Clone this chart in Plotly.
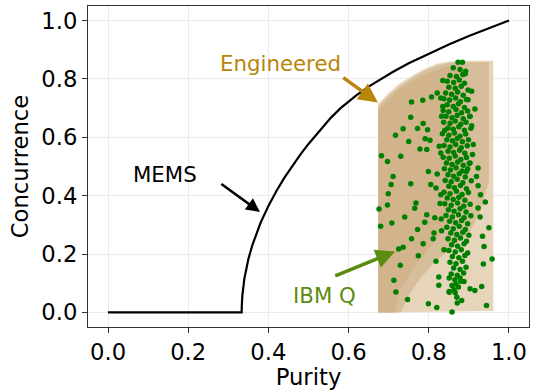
import plotly.graph_objects as go

# MEMS boundary (purity, concurrence)
mems_purity = [0.0, 0.3333, 0.3336, 0.3345, 0.335, 0.34, 0.35, 0.36, 0.38, 0.40, 0.42, 0.44,
               0.46, 0.48, 0.50, 0.52, 0.54, 0.5556, 0.58, 0.60, 0.62, 0.65, 0.68, 0.71,
               0.75, 0.80, 0.85, 0.90, 0.95, 1.0]
mems_concurrence = [0.0, 0.0, 0.023, 0.048, 0.058, 0.1155, 0.1826, 0.2309, 0.3055, 0.3651, 0.4163, 0.4619,
                    0.5033, 0.5416, 0.5774, 0.6110, 0.6429, 0.6667, 0.7000, 0.7236, 0.7449, 0.7739, 0.8000, 0.8240,
                    0.8536, 0.8873, 0.9183, 0.9472, 0.9743, 1.0]

# Engineered-state cloud outline (outer sparse, middle, dense core)
eng_outer_purity = [0.674, 0.674, 0.70, 0.728, 0.76, 0.79, 0.82, 0.85, 0.90, 0.961, 0.961, 0.674]
eng_outer_conc = [0.0, 0.715, 0.752, 0.785, 0.812, 0.835, 0.852, 0.860, 0.862, 0.862, 0.005, 0.0]
eng_mid_purity = [0.674, 0.674, 0.70, 0.728, 0.76, 0.79, 0.82, 0.85, 0.95, 0.95, 0.93, 0.90, 0.86, 0.82, 0.78, 0.75, 0.73, 0.674]
eng_mid_conc = [0.0, 0.705, 0.742, 0.775, 0.805, 0.828, 0.845, 0.855, 0.858, 0.45, 0.35, 0.27, 0.22, 0.18, 0.12, 0.06, 0.0, 0.0]
eng_core_purity = [0.674, 0.674, 0.70, 0.728, 0.76, 0.80, 0.84, 0.88, 0.88, 0.85, 0.80, 0.76, 0.73, 0.715, 0.674]
eng_core_conc = [0.0, 0.69, 0.73, 0.765, 0.795, 0.82, 0.84, 0.845, 0.50, 0.30, 0.22, 0.15, 0.08, 0.0, 0.0]

# IBM Q measured states (purity, concurrence)
ibm_scattered = [
    (0.884, 0.857), (0.891, 0.818), (0.757, 0.721), (0.785, 0.727), (0.807, 0.738), (0.821, 0.752),
    (0.755, 0.669), (0.736, 0.629), (0.717, 0.607), (0.750, 0.586), (0.772, 0.630), (0.786, 0.647),
    (0.797, 0.626), (0.791, 0.595), (0.803, 0.590), (0.778, 0.560), (0.795, 0.558), (0.682, 0.537),
    (0.697, 0.517), (0.730, 0.535), (0.711, 0.466), (0.799, 0.483), (0.821, 0.474), (0.830, 0.546),
    (0.826, 0.569), (0.840, 0.624), (0.832, 0.672), (0.835, 0.706), (0.830, 0.735), (0.835, 0.795),
    (0.915, 0.697), (0.907, 0.758), (0.898, 0.729), (0.903, 0.672), (0.907, 0.640), (0.911, 0.575),
    (0.909, 0.541), (0.923, 0.495), (0.919, 0.466), (0.903, 0.512), (0.894, 0.483),
    (0.706, 0.438), (0.755, 0.441), (0.699, 0.407), (0.697, 0.368), (0.676, 0.354), (0.768, 0.375),
    (0.765, 0.357), (0.740, 0.327), (0.708, 0.306), (0.680, 0.295), (0.795, 0.335), (0.790, 0.309),
    (0.772, 0.284), (0.757, 0.252), (0.786, 0.235), (0.736, 0.223), (0.725, 0.217), (0.774, 0.194),
    (0.729, 0.162), (0.713, 0.110), (0.718, 0.070), (0.747, 0.044), (0.799, 0.030), (0.820, 0.017),
    (0.858, 0.001), (0.871, 0.032), (0.882, 0.041), (0.944, 0.024), (0.932, 0.089), (0.903, 0.081),
    (0.915, 0.075), (0.825, 0.093), (0.851, 0.069), (0.868, 0.097), (0.863, 0.078), (0.818, 0.175),
    (0.838, 0.215), (0.958, 0.183), (0.936, 0.166), (0.950, 0.290), (0.941, 0.378), (0.934, 0.261),
    (0.938, 0.226), (0.928, 0.327), (0.923, 0.358), (0.929, 0.403), (0.923, 0.434), (0.818, 0.426),
    (0.805, 0.438), (0.830, 0.403), (0.828, 0.373), (0.815, 0.324), (0.831, 0.320), (0.813, 0.272),
    (0.832, 0.280), (0.811, 0.252), (0.825, 0.121), (0.851, 0.118), (0.878, 0.118), (0.888, 0.106),
]
ibm_band = [
    (0.873, 0.857), (0.861, 0.838), (0.878, 0.832), (0.892, 0.826), (0.853, 0.812), (0.869, 0.808),
    (0.885, 0.815), (0.846, 0.792), (0.862, 0.788), (0.876, 0.796), (0.889, 0.785), (0.850, 0.772),
    (0.866, 0.768), (0.881, 0.775), (0.898, 0.762), (0.842, 0.752), (0.857, 0.748), (0.872, 0.755),
    (0.886, 0.744), (0.838, 0.732), (0.852, 0.728), (0.867, 0.735), (0.879, 0.722), (0.894, 0.730),
    (0.846, 0.712), (0.861, 0.706), (0.874, 0.715), (0.889, 0.702), (0.836, 0.692), (0.850, 0.688),
    (0.868, 0.695), (0.882, 0.684), (0.897, 0.690), (0.843, 0.672), (0.858, 0.667), (0.871, 0.676),
    (0.886, 0.664), (0.902, 0.671), (0.837, 0.652), (0.853, 0.648), (0.866, 0.656), (0.880, 0.645),
    (0.893, 0.652), (0.848, 0.632), (0.861, 0.628), (0.875, 0.636), (0.889, 0.624), (0.905, 0.631),
    (0.834, 0.612), (0.850, 0.607), (0.864, 0.615), (0.878, 0.604), (0.892, 0.611), (0.845, 0.592),
    (0.859, 0.588), (0.871, 0.596), (0.884, 0.585), (0.899, 0.592), (0.838, 0.572), (0.853, 0.567),
    (0.867, 0.575), (0.881, 0.564), (0.896, 0.571), (0.848, 0.552), (0.862, 0.548), (0.877, 0.556),
    (0.890, 0.545), (0.836, 0.532), (0.851, 0.528), (0.866, 0.536), (0.880, 0.524), (0.894, 0.531),
    (0.844, 0.512), (0.858, 0.507), (0.872, 0.515), (0.886, 0.504), (0.901, 0.511), (0.839, 0.492),
    (0.854, 0.488), (0.868, 0.496), (0.883, 0.485), (0.897, 0.492), (0.848, 0.472), (0.862, 0.467),
    (0.876, 0.475), (0.891, 0.464), (0.841, 0.452), (0.856, 0.448), (0.871, 0.456), (0.885, 0.444),
    (0.906, 0.451), (0.850, 0.432), (0.864, 0.427), (0.879, 0.435), (0.894, 0.424), (0.838, 0.412),
    (0.853, 0.407), (0.869, 0.415), (0.883, 0.404), (0.899, 0.411), (0.846, 0.392), (0.861, 0.387),
    (0.875, 0.395), (0.890, 0.384), (0.840, 0.372), (0.856, 0.367), (0.872, 0.375), (0.887, 0.364),
    (0.903, 0.371), (0.849, 0.352), (0.863, 0.347), (0.878, 0.355), (0.893, 0.344), (0.843, 0.332),
    (0.859, 0.327), (0.874, 0.335), (0.888, 0.324), (0.905, 0.331), (0.852, 0.312), (0.867, 0.307),
    (0.882, 0.315), (0.897, 0.304), (0.845, 0.292), (0.861, 0.287), (0.876, 0.295), (0.891, 0.284),
    (0.855, 0.272), (0.870, 0.267), (0.885, 0.275), (0.900, 0.264), (0.848, 0.252), (0.864, 0.247),
    (0.879, 0.255), (0.894, 0.244), (0.857, 0.232), (0.872, 0.227), (0.888, 0.235), (0.850, 0.212),
    (0.866, 0.207), (0.881, 0.215), (0.897, 0.204), (0.859, 0.192), (0.875, 0.187), (0.890, 0.195),
    (0.853, 0.172), (0.868, 0.167), (0.884, 0.175), (0.862, 0.152), (0.878, 0.147), (0.893, 0.155),
    (0.856, 0.132), (0.871, 0.127), (0.887, 0.135), (0.865, 0.112), (0.880, 0.107), (0.858, 0.092),
    (0.874, 0.087), (0.851, 0.072), (0.866, 0.067), (0.870, 0.052),
]
ibm_purity = [p for p, c in ibm_scattered + ibm_band]
ibm_concurrence = [c for p, c in ibm_scattered + ibm_band]

tick_vals = [0.0, 0.2, 0.4, 0.6, 0.8, 1.0]
tick_text = ["0.0", "0.2", "0.4", "0.6", "0.8", "1.0"]

FONT = "DejaVu Sans"
TAN = "#d2b48c"
GOLD = "#b8860b"
OLIVE = "#5b8c0f"

fig = go.Figure()
fig.add_trace(go.Scatter(x=eng_outer_purity, y=eng_outer_conc, mode="lines", fill="toself",
                         fillcolor="#e6d4bb", line=dict(width=0), hoverinfo="skip"))
fig.add_trace(go.Scatter(x=eng_mid_purity, y=eng_mid_conc, mode="lines", fill="toself",
                         fillcolor="#d7be9a", line=dict(width=0), hoverinfo="skip"))
fig.add_trace(go.Scatter(x=eng_core_purity, y=eng_core_conc, mode="lines", fill="toself",
                         fillcolor=TAN, line=dict(width=0), hoverinfo="skip"))
fig.add_trace(go.Scatter(x=ibm_purity, y=ibm_concurrence, mode="markers",
                         marker=dict(color="#008000", size=5.5, line=dict(width=0))))
fig.add_trace(go.Scatter(x=mems_purity, y=mems_concurrence, mode="lines",
                         line=dict(color="black", width=2.2)))

axis_common = dict(
    range=[-0.05, 1.05], tickvals=tick_vals, ticktext=tick_text, automargin=False,
    showgrid=True, gridcolor="#ebebeb", gridwidth=1, zeroline=False,
    showline=True, linecolor="#333333", linewidth=1.2, mirror=True,
    ticks="outside", ticklen=5, tickwidth=1.2, tickcolor="#333333",
    tickfont=dict(family=FONT, size=22.7, color="black"),
)
fig.update_xaxes(**axis_common, title=dict(text="Purity", font=dict(family=FONT, size=22.7, color="black"), standoff=3))
fig.update_yaxes(**axis_common, title=dict(text="Concurrence", font=dict(family=FONT, size=22.7, color="black"), standoff=6))

annotations = [
    dict(x=0.673, y=0.719, ax=0.583, ay=0.808, color=GOLD, w=3.5),
    dict(x=0.379, y=0.344, ax=0.279, ay=0.444, color="black", w=2.5),
    dict(x=0.716, y=0.209, ax=0.563, ay=0.123, color=OLIVE, w=3.5),
]
for a in annotations:
    fig.add_annotation(x=a["x"], y=a["y"], ax=a["ax"], ay=a["ay"], xref="x", yref="y",
                       axref="x", ayref="y", text="", showarrow=True, arrowhead=2,
                       arrowsize=1.1, arrowwidth=a["w"], arrowcolor=a["color"], standoff=0)

fig.add_annotation(x=0.429, y=0.853, xref="x", yref="y", text="Engineered", showarrow=False,
                   font=dict(family=FONT, size=21.3, color=GOLD))
fig.add_annotation(x=0.142, y=0.472, xref="x", yref="y", text="MEMS", showarrow=False,
                   font=dict(family=FONT, size=21.3, color="black"))
fig.add_annotation(x=0.541, y=0.057, xref="x", yref="y", text="IBM Q", showarrow=False,
                   font=dict(family=FONT, size=21.3, color=OLIVE))

fig.update_layout(
    width=534, height=390, showlegend=False,
    margin=dict(l=88, r=5, t=6, b=63),
    paper_bgcolor="white", plot_bgcolor="white",
)
fig.write_html("out.html", config={"displayModeBar": False},
               post_script="document.body.style.margin='0';")
